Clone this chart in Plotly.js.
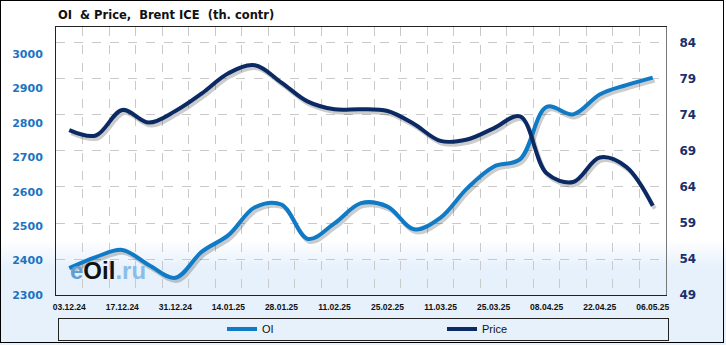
<!DOCTYPE html>
<html>
<head>
<meta charset="utf-8">
<script src="https://cdn.plot.ly/plotly-3.0.1.min.js"></script>
<style>
  html, body { margin: 0; padding: 0; }
  body { width: 726px; height: 345px; overflow: hidden;
         background: linear-gradient(to bottom, #ffffff 0px, #ffffff 240px, #e6f1fc 268px, #e6f1fc 345px); }
  #wrap { position: relative; width: 726px; height: 345px; }
  #chart { width: 726px; height: 345px; }
  #frame { position: absolute; left: 0; top: 0; width: 722px; height: 341px; border: 1px solid #000; pointer-events: none; }
  #lbox { position: absolute; left: 58px; top: 318px; width: 609px; height: 21px; border: 1px solid #222; pointer-events: none; }
</style>
</head>
<body>
<div id="wrap">
  <div id="chart"></div>
  <div id="frame"></div>
  <div id="lbox"></div>
</div>
<script>
const dates = ['03.12.24','10.12.24','17.12.24','24.12.24','31.12.24','07.01.25','14.01.25','21.01.25',
               '28.01.25','04.02.25','11.02.25','18.02.25','25.02.25','04.03.25','11.03.25','18.03.25',
               '25.03.25','01.04.25','08.04.25','15.04.25','22.04.25','29.04.25','06.05.25'];
const tickLabels = dates.map((d, i) => (i % 2 === 0 ? d : ''));
const oi = [2378, 2410, 2431, 2387, 2350, 2426, 2474, 2555, 2563, 2463, 2508, 2567,
            2557, 2491, 2525, 2610, 2673, 2695, 2847, 2825, 2883, 2910, 2932];
const price = [71.9, 71.15, 74.7, 72.95, 74.55, 77.0, 79.8, 80.9, 78.5, 75.85, 74.8, 74.8,
               74.55, 72.75, 70.4, 70.6, 72.15, 73.8, 65.9, 64.7, 68.1, 66.8, 61.4];
const oiTicks = [2300, 2400, 2500, 2600, 2700, 2800, 2900, 3000];
const priceTicks = [49, 54, 59, 64, 69, 74, 79, 84];

const oiColor = '#0f7ac6';
const priceColor = '#0b2a64';
const shadowColor = 'rgba(0,0,0,0.2)';

// axis ranges
const xRange = [-0.5, 22.5];
const oiRange = [2300, 3079];
const priceRange = [49, 86.22];
// drop-shadow offset (px) -> converted to axis units
const shX = 2 * 23 / 610, shY = 3;
const oiShRange = [oiRange[0] + shY * (oiRange[1] - oiRange[0]) / 268, oiRange[1] + shY * (oiRange[1] - oiRange[0]) / 268];
const prShRange = [priceRange[0] + shY * (priceRange[1] - priceRange[0]) / 268, priceRange[1] + shY * (priceRange[1] - priceRange[0]) / 268];

const spline = { shape: 'spline', smoothing: 1, width: 4 };
const traces = [
  { x: dates, y: oi, xaxis: 'x', yaxis: 'y', type: 'scatter', mode: 'lines', showlegend: false, hoverinfo: 'skip',
    line: Object.assign({ color: shadowColor }, spline) },
  { x: dates, y: price, xaxis: 'x', yaxis: 'y2', type: 'scatter', mode: 'lines', showlegend: false, hoverinfo: 'skip',
    line: Object.assign({ color: shadowColor }, spline) },
  { x: dates, y: oi, name: 'OI', xaxis: 'x2', yaxis: 'y3', type: 'scatter', mode: 'lines',
    line: Object.assign({ color: oiColor }, spline) },
  { x: dates, y: price, name: 'Price', xaxis: 'x2', yaxis: 'y4', type: 'scatter', mode: 'lines',
    line: Object.assign({ color: priceColor }, spline) }
];

const hidden = { visible: false, showgrid: false, zeroline: false, fixedrange: true };
const layout = {
  width: 726, height: 345,
  margin: { l: 56, r: 60, t: 27, b: 50, pad: 0, autoexpand: false },
  paper_bgcolor: 'rgba(0,0,0,0)',
  plot_bgcolor: 'rgba(0,0,0,0)',
  showlegend: true,
  title: { text: 'OI &nbsp;& Price, &nbsp;Brent ICE &nbsp;(th. contr)',
           x: 58/726, xref: 'container', xanchor: 'left',
           y: 1 - 15/345, yref: 'container', yanchor: 'middle',
           font: { family: 'DejaVu Sans, Verdana, sans-serif', size: 11.5, color: '#111', weight: 'bold' } },
  xaxis: Object.assign({ type: 'category', range: [xRange[0] - shX, xRange[1] - shX] }, hidden),
  yaxis: Object.assign({ range: oiShRange }, hidden),
  yaxis2: Object.assign({ range: prShRange, overlaying: 'y' }, hidden),
  xaxis2: { type: 'category', overlaying: 'x', anchor: 'y3', side: 'bottom',
           tickvals: dates, ticktext: tickLabels, tickson: 'boundaries',
           range: xRange, showgrid: true, gridcolor: '#c9c9c9', griddash: 'dash', gridwidth: 1,
           ticks: '', showline: true, linecolor: '#222', linewidth: 1, mirror: true,
           tickangle: 0, ticklabelstandoff: 4,
           tickfont: { family: 'Liberation Sans, Arial, sans-serif', size: 8.5, color: '#111', weight: 'bold' },
           zeroline: false, fixedrange: true },
  yaxis3: { range: oiRange, tickvals: oiTicks, overlaying: 'y', side: 'left', anchor: 'x2',
           showgrid: false, zeroline: false,
           showline: true, linecolor: '#222', linewidth: 1, ticks: '', ticklabelstandoff: 10,
           tickfont: { family: 'DejaVu Sans, Verdana, sans-serif', size: 11, color: '#1a74c2', weight: 'bold' } },
  yaxis4: { range: priceRange, tickvals: priceTicks, overlaying: 'y', side: 'right', anchor: 'x2',
            showgrid: true, gridcolor: '#c9c9c9', griddash: 'dash', gridwidth: 1,
            zeroline: false, showline: true, linecolor: '#777', linewidth: 1, ticks: '', ticklabelstandoff: 10,
            tickfont: { family: 'DejaVu Sans, Verdana, sans-serif', size: 12, color: '#1b2f6c', weight: 'bold' } },
  legend: { orientation: 'h', xref: 'container', x: 222 / 726, xanchor: 'left',
            yref: 'container', y: 1 - 329 / 345, yanchor: 'middle',
            entrywidth: 175, entrywidthmode: 'pixels', itemwidth: 30, bgcolor: 'rgba(0,0,0,0)',
            font: { family: 'Liberation Sans, Arial, sans-serif', size: 11, color: '#111' } },
  annotations: [
    { xref: 'paper', yref: 'paper', x: (108 - 56) / 610, y: (295 - 270) / 268, xanchor: 'center', yanchor: 'middle',
      showarrow: false,
      text: '<span style="color:#5d9fd6">e</span><span style="color:#111">Oil</span><span style="color:#8dbde6">.ru</span>',
      font: { family: 'Liberation Sans, Arial, sans-serif', size: 24, weight: 'bold' } }
  ]
};

Plotly.newPlot('chart', traces, layout, { displayModeBar: false, staticPlot: true });
</script>
</body>
</html>
